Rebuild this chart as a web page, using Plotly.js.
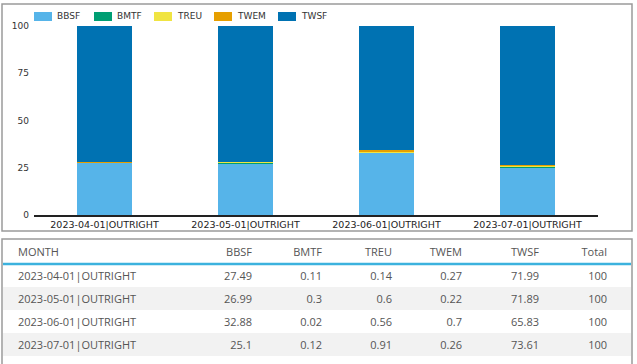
<!DOCTYPE html>
<html><head><meta charset="utf-8">
<script src="https://cdn.plot.ly/plotly-3.0.1.min.js"></script>
<style>html,body{margin:0;padding:0;background:#fff;}#c{width:637px;height:364px;}</style>
</head><body><div id="c"></div>
<script>
const months = ['2023-04-01|OUTRIGHT','2023-05-01|OUTRIGHT','2023-06-01|OUTRIGHT','2023-07-01|OUTRIGHT'];
const seriesNames = ['BBSF','BMTF','TREU','TWEM','TWSF'];
const bbsf = [27.49, 26.99, 32.88, 25.1];
const bmtf = [0.11, 0.3, 0.02, 0.12];
const treu = [0.14, 0.6, 0.56, 0.91];
const twem = [0.27, 0.22, 0.7, 0.26];
const twsf = [71.99, 71.89, 65.83, 73.61];
const total = [100, 100, 100, 100];
const yTicks = [0, 25, 50, 75, 100];
const colors = ['#56B4E9','#009E73','#F0E442','#E69F00','#0072B2'];

const W = 637, H = 364;
const px = v => v / W, py = v => 1 - v / H;
const series = [bbsf, bmtf, treu, twem, twsf];

const traces = series.map((vals, i) => ({
  type: 'bar', x: months, y: vals, name: seriesNames[i],
  marker: {color: colors[i], line: {width: 0}},
  hoverinfo: 'skip', showlegend: false
}));

// table
const headerVals = ['', 'MONTH'].concat(seriesNames, ['Total', '']);
const blank = months.map(() => '');
const cellCols = [blank, months].concat(series, [total, blank]);
const rowFill = months.map((m, r) => r % 2 ? '#f2f2f2' : '#ffffff');
traces.push({
  type: 'table',
  domain: {x: [px(3), px(631)], y: [0, py(240)]},
  columnwidth: [7, 180, 70, 70, 70, 70, 77, 68, 16],
  header: {
    values: headerVals,
    align: ['left','left','right','right','right','right','right','right','right'],
    height: 24,
    fill: {color: '#ffffff'},
    line: {color: '#ffffff', width: 0},
    font: {family: 'Open Sans', size: 11, color: '#555555'}
  },
  cells: {
    values: cellCols,
    align: ['left','left','right','right','right','right','right','right','right'],
    height: 23,
    fill: {color: cellCols.map(() => rowFill)},
    line: {color: 'rgba(0,0,0,0)', width: 0},
    font: {family: 'Open Sans', size: 11, color: '#555555'}
  }
});

// legend drawn as shapes + annotations
const legX = [34, 94, 154, 214, 278];
const shapes = [
  {type:'rect', xref:'paper', yref:'paper', x0:px(2), x1:px(632), y0:py(231), y1:py(4), line:{color:'#9a9a9a', width:1.5}},
  {type:'rect', xref:'paper', yref:'paper', x0:px(2), x1:px(632), y0:py(372), y1:py(239), line:{color:'#9a9a9a', width:1.5}},
  {type:'line', xref:'paper', yref:'paper', x0:px(3), x1:px(631), y0:py(264), y1:py(264), line:{color:'#3cb2de', width:2.5}}
];
const annotations = [];
seriesNames.forEach((n, i) => {
  shapes.push({type:'rect', xref:'paper', yref:'paper', x0:px(legX[i]), x1:px(legX[i]+18), y0:py(21), y1:py(12), fillcolor:colors[i], line:{width:0}});
  annotations.push({xref:'paper', yref:'paper', x:px(legX[i]+21), y:py(16.5), xanchor:'left', yanchor:'middle', showarrow:false, text:n, font:{family:'DejaVu Sans', size:9, color:'#333333'}});
});

const layout = {
  width: W, height: H, margin: {l:0, r:0, t:0, b:0},
  paper_bgcolor: '#ffffff', plot_bgcolor: '#ffffff',
  barmode: 'stack', bargap: 0.603,
  showlegend: false,
  xaxis: {domain: [px(34), px(598)], showline: true, linecolor: '#222222', linewidth: 1.5,
    ticks: '', showgrid: false, zeroline: false,
    tickfont: {family: 'DejaVu Sans', size: 9.5, color: '#222222'}},
  yaxis: {domain: [py(215), py(26)], range: [0, 100], tickvals: yTicks, showgrid: false, zeroline: false,
    showline: false, ticks: '', ticklabelstandoff: 4,
    tickfont: {family: 'DejaVu Sans', size: 9, color: '#333333'}},
  shapes: shapes, annotations: annotations
};

Plotly.newPlot('c', traces, layout, {staticPlot: true, displayModeBar: false});
</script></body></html>
